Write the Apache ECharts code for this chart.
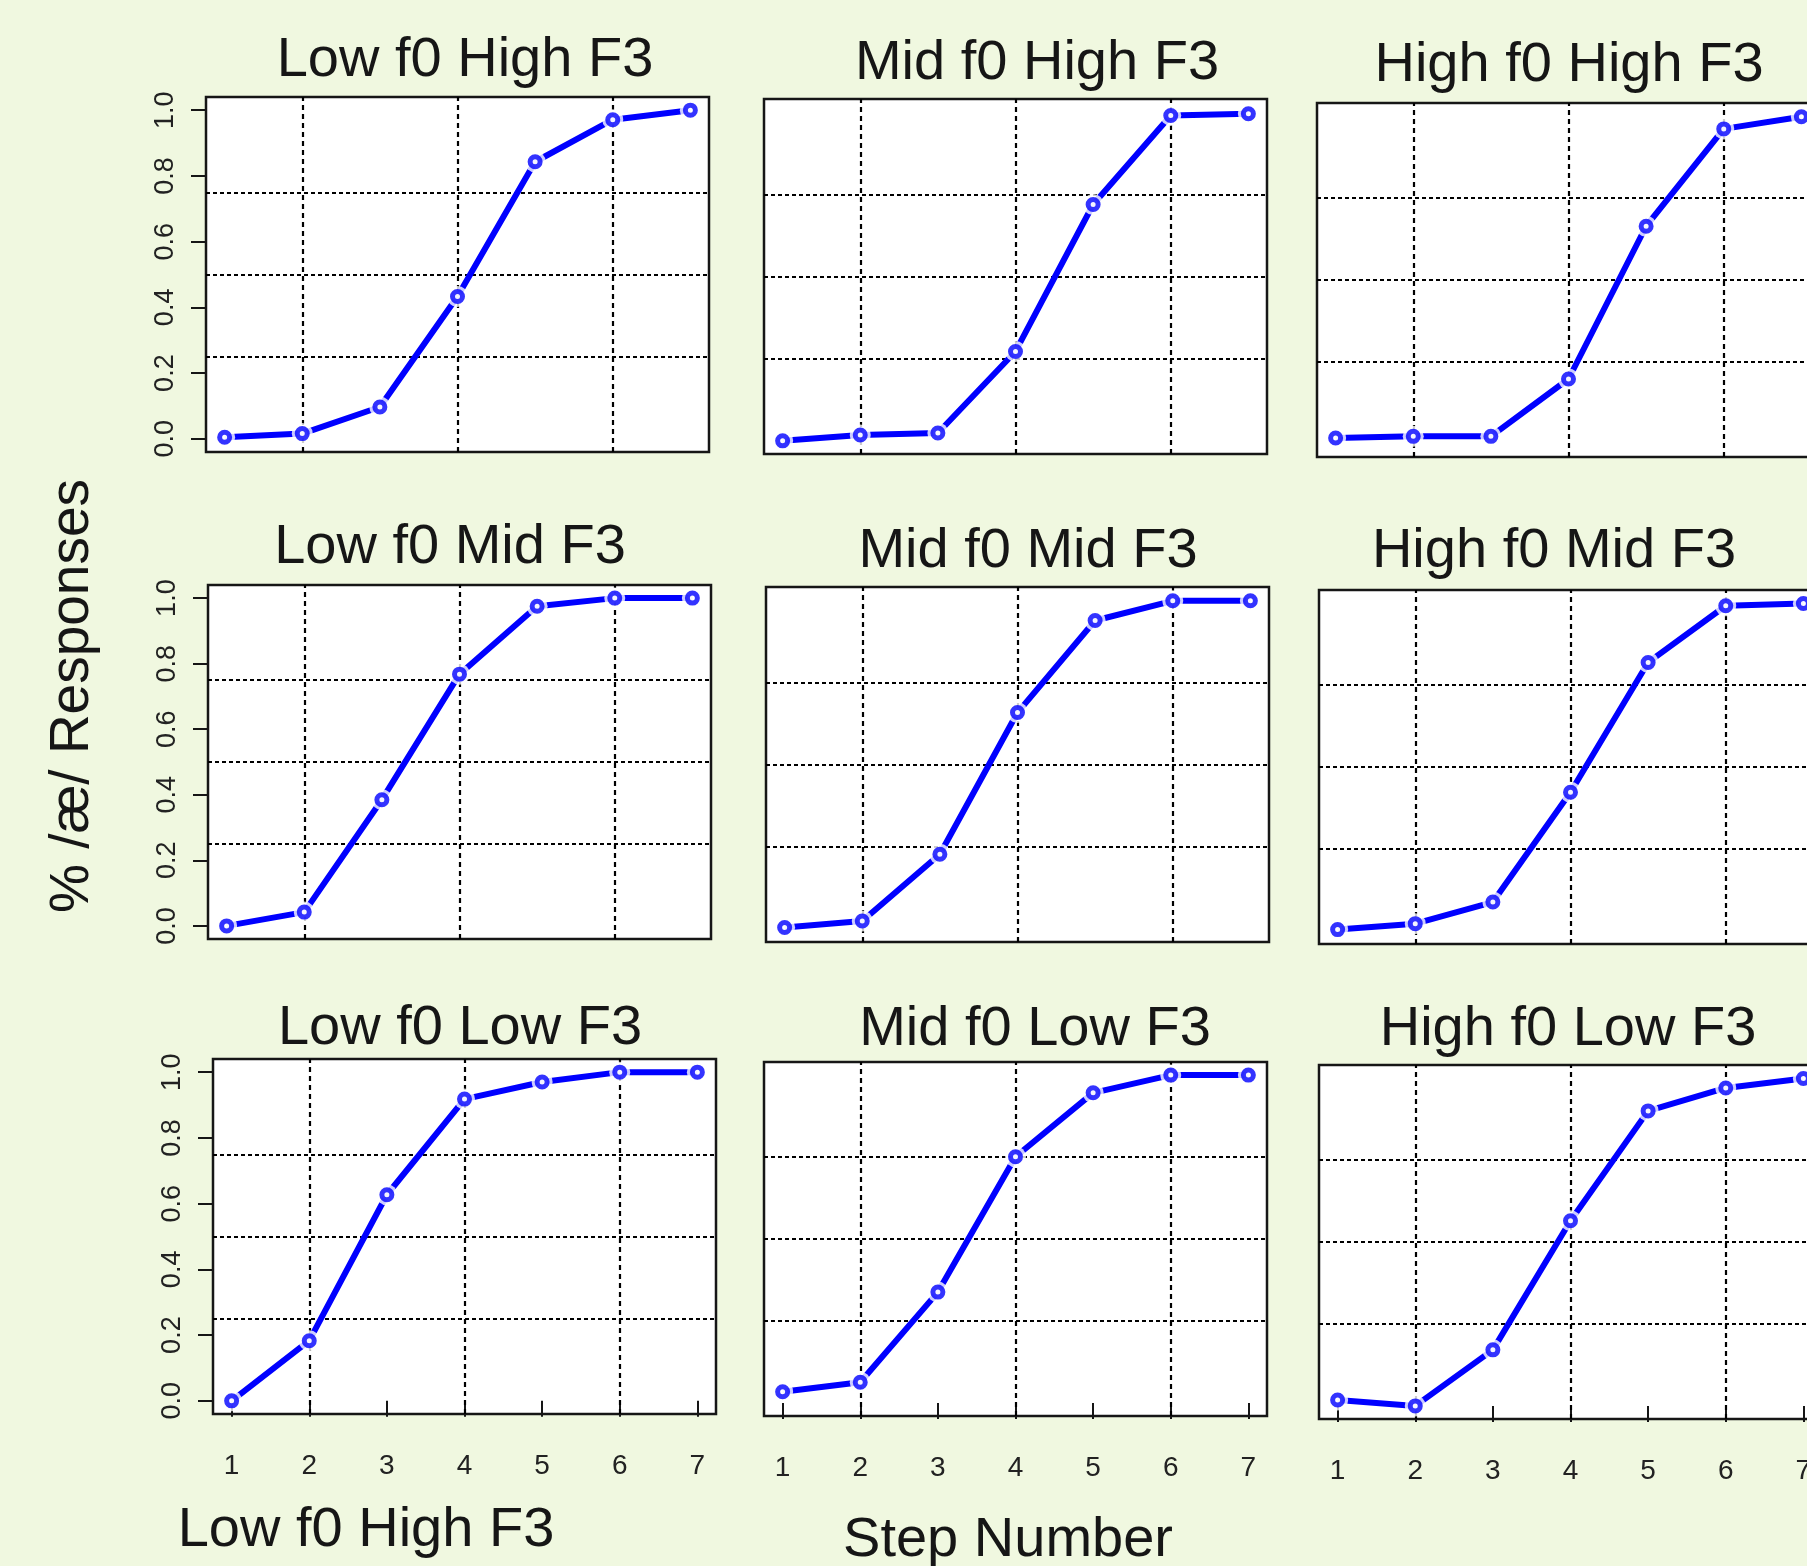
<!DOCTYPE html>
<html>
<head>
<meta charset="utf-8">
<script src="https://cdn.jsdelivr.net/npm/echarts@6/dist/echarts.min.js"></script>
<style>
html,body{margin:0;padding:0;background:#f0f8e0;overflow:hidden;}
#c{width:1840px;height:1566px;}
</style>
</head>
<body>
<div id="c"></div>
<script>
// ---- data ----
const steps = [1, 2, 3, 4, 5, 6, 7];
const yTicks = [0, 0.2, 0.4, 0.6, 0.8, 1.0];
const xGridLines = [2, 4, 6];
const yGridLines = [0.25, 0.5, 0.75];
const panelTitles = [
  'Low f0 High F3', 'Mid f0 High F3', 'High f0 High F3',
  'Low f0 Mid F3', 'Mid f0 Mid F3', 'High f0 Mid F3',
  'Low f0 Low F3', 'Mid f0 Low F3', 'High f0 Low F3'
];
const lowF0HighF3  = [0.005, 0.016, 0.097, 0.433, 0.843, 0.971, 1.0];
const midF0HighF3  = [0.0, 0.018, 0.024, 0.272, 0.719, 0.990, 0.995];
const highF0HighF3 = [0.018, 0.023, 0.023, 0.198, 0.664, 0.961, 0.998];
const lowF0MidF3   = [0.0, 0.042, 0.385, 0.768, 0.975, 1.0, 1.0];
const midF0MidF3   = [0.004, 0.024, 0.227, 0.658, 0.938, 0.998, 0.998];
const highF0MidF3  = [0.004, 0.022, 0.088, 0.423, 0.819, 0.992, 0.999];
const lowF0LowF3   = [0.0, 0.183, 0.627, 0.918, 0.970, 1.0, 1.0];
const midF0LowF3   = [0.034, 0.063, 0.338, 0.751, 0.946, 1.0, 1.0];
const highF0LowF3  = [0.018, 0.0, 0.171, 0.565, 0.900, 0.970, 0.999];
const yAxisTitle = '% /\u00e6/ Responses';
const bottomLeftText = 'Low f0 High F3';
const xAxisTitle = 'Step Number';

const panelValues = [
  lowF0HighF3, midF0HighF3, highF0HighF3,
  lowF0MidF3, midF0MidF3, highF0MidF3,
  lowF0LowF3, midF0LowF3, highF0LowF3
];

// ---- layout ----
const rects = [
  [206, 97, 503, 355], [764, 99, 503, 355], [1317, 103, 503, 354],
  [208, 585, 503, 354], [766, 587, 503, 355], [1319, 590, 503, 354],
  [213, 1059, 503, 355], [764, 1062, 503, 354], [1319, 1065, 503, 354]
];
const titlePos = [
  [465, 61], [1037, 64], [1569, 66],
  [450, 548], [1028, 552], [1554, 552],
  [460, 1029], [1035, 1030], [1568, 1030]
];
const FONT = '"Liberation Sans", Arial, Helvetica, sans-serif';
const INK = '#161616';
const BLUE = '#0000ff';

const grid = [], xAxis = [], yAxis = [], series = [], graphic = [];

rects.forEach((r, i) => {
  const col = i % 3, row = Math.floor(i / 3);
  const showX = row === 2, showY = col === 0;
  grid.push({
    left: r[0], top: r[1], width: r[2], height: r[3],
    show: true, backgroundColor: '#ffffff',
    borderColor: INK, borderWidth: 2.5
  });
  xAxis.push({
    type: 'value', gridIndex: i, min: 0.76, max: 7.24,
    axisLine: { show: false },
    splitLine: { show: false },
    axisTick: { show: showX, customValues: steps, length: 16, inside: false,
                lineStyle: { color: INK, width: 2 } },
    axisLabel: { show: showX, customValues: steps, margin: 38,
                 fontSize: 28, fontFamily: FONT, color: '#222' }
  });
  yAxis.push({
    type: 'value', gridIndex: i, min: -0.04, max: 1.04,
    axisLine: { show: false },
    splitLine: { show: false },
    axisTick: { show: showY, customValues: yTicks, length: 15, inside: false,
                lineStyle: { color: INK, width: 2 } },
    axisLabel: { show: showY, customValues: yTicks, rotate: 90, margin: 27,
                 fontSize: 27, fontFamily: FONT, color: '#222',
                 formatter: v => Number(v).toFixed(1) }
  });
  const pts = steps.map((s, k) => [s, panelValues[i][k]]);
  const gridLineData = xGridLines.map(v => ({ xAxis: v, lineStyle: { type: [5, 4] } }))
    .concat(yGridLines.map(v => ({ yAxis: v, lineStyle: { type: [4, 3] } })));
  series.push({
    type: 'line', xAxisIndex: i, yAxisIndex: i, data: pts,
    symbol: 'none', z: 2, silent: true,
    lineStyle: { color: BLUE, width: 6 },
    markLine: {
      silent: true, z: 1, symbol: 'none', animation: false,
      label: { show: false },
      lineStyle: { color: '#000', width: 2.2, opacity: 1 },
      emphasis: { disabled: true },
      data: gridLineData
    }
  });
  series.push({
    type: 'scatter', xAxisIndex: i, yAxisIndex: i, data: pts,
    symbol: 'circle', symbolSize: 21, z: 3, silent: true,
    itemStyle: { color: '#ffffff' }
  });
  series.push({
    type: 'scatter', xAxisIndex: i, yAxisIndex: i, data: pts,
    symbol: 'circle', symbolSize: 10, z: 4, silent: true,
    itemStyle: { color: '#ffffff', borderColor: BLUE, borderWidth: 5 }
  });
  graphic.push({
    type: 'text', x: titlePos[i][0], y: titlePos[i][1], silent: true,
    style: { text: panelTitles[i], font: '56px ' + FONT, fill: INK,
             align: 'center', verticalAlign: 'middle' }
  });
});

graphic.push({
  type: 'text', x: 73, y: 696, rotation: Math.PI / 2, silent: true,
  style: { text: yAxisTitle, font: '55px ' + FONT, fill: INK,
           align: 'center', verticalAlign: 'middle' }
});
graphic.push({
  type: 'text', x: 366, y: 1531, silent: true,
  style: { text: bottomLeftText, font: '56px ' + FONT, fill: INK,
           align: 'center', verticalAlign: 'middle' }
});
graphic.push({
  type: 'text', x: 1008, y: 1541, silent: true,
  style: { text: xAxisTitle, font: '56px ' + FONT, fill: INK,
           align: 'center', verticalAlign: 'middle' }
});

const chart = echarts.init(document.getElementById('c'), null, { renderer: 'canvas' });
chart.setOption({
  backgroundColor: '#f0f8e0',
  animation: false,
  grid, xAxis, yAxis, series, graphic
});
</script>
</body>
</html>
